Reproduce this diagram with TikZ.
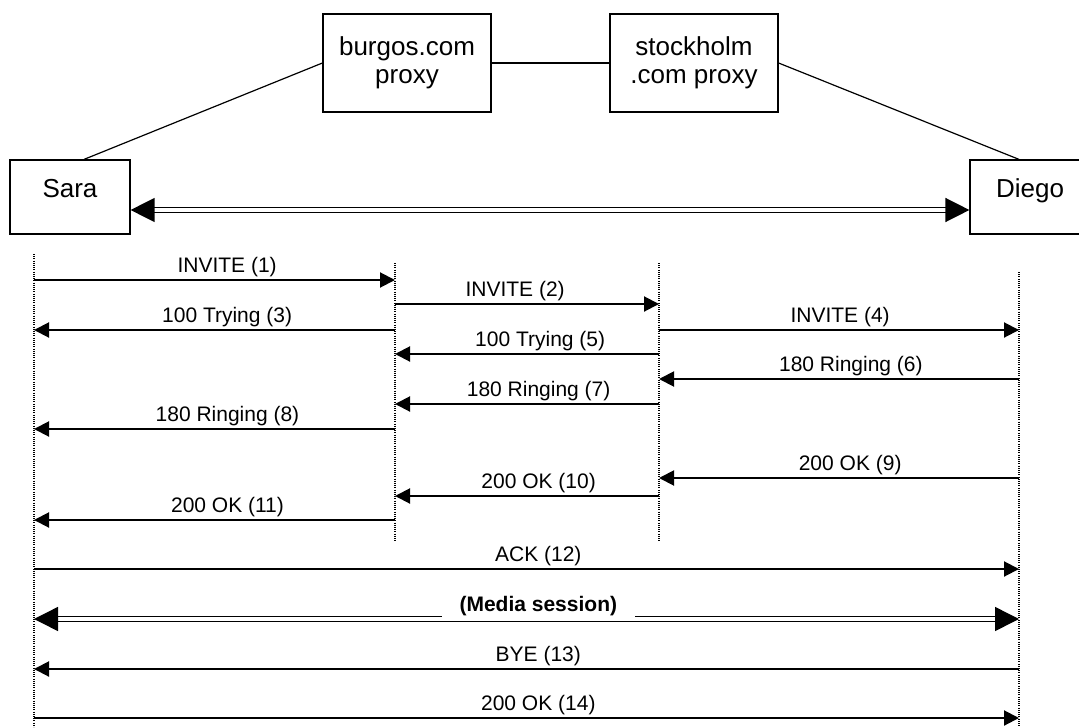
\documentclass[tikz,border=0pt]{standalone}
\usepackage{fontspec}
\setmainfont{Liberation Sans}
\usetikzlibrary{arrows.meta,positioning}

\tikzset{
  box/.style={draw, line width=0.6pt, align=center, inner sep=0pt,
    font=\fontsize{13}{14}\selectfont},
  ua/.style={box, minimum width=60pt, minimum height=37pt, text height=9.5pt, text depth=9pt},
  proxy/.style={box, minimum width=84pt, minimum height=49pt},
  life/.style={line width=0.6pt, dash pattern=on 0.5pt off 0.6pt},
  msg/.style={line width=1pt, -{Triangle[length=7.5pt,width=7.5pt]}},
  media/.style={double, line width=0.7pt, double distance=2pt,
    {Triangle[length=12pt,width=12pt]}-{Triangle[length=12pt,width=12pt]}},
  lbl/.style={anchor=south, fill=white, inner xsep=0pt, inner ysep=1pt,
    font=\fontsize{10.5}{12}\selectfont}
}

\begin{document}
\begin{tikzpicture}[x=0.5pt,y=-0.5pt]
\useasboundingbox (0,0) rectangle (1079,727);

% lifeline tops
\coordinate (sL) at (34,254);
\coordinate (bL) at (395,263);
\coordinate (kL) at (659,263);
\coordinate (dL) at (1019,272);

% user agents and proxies
\node[ua] (sara) at (70,197) {Sara};
\node[ua] (diego) at (1030,197) {Diego};
\node[proxy] (burgos) at (407,63) {burgos.com\\proxy};
\node[proxy] (stockholm) at (694,63) {stockholm\\.com proxy};

% signalling path
\draw[line width=0.6pt] ([xshift=7pt]sara.north) -- (burgos.west);
\draw[line width=0.6pt] (burgos) -- (stockholm);
\draw[line width=0.6pt] (stockholm.east) -- (dL |- diego.north);
\draw[media] ([yshift=-6.5pt]sara.east) -- ([yshift=-6.5pt]diego.west);

% lifelines
\draw[life] (sL) -- (sL |- 0,727);
\draw[life] (bL) -- (bL |- 0,542);
\draw[life] (kL) -- (kL |- 0,542);
\draw[life] (dL) -- (dL |- 0,727);

% messages: from/to/y/pos/box width/label
\foreach \a/\b/\y/\p/\w/\txt in {
    sL/bL/280/0.535/72.5pt/INVITE (1),
    bL/kL/304/0.455/73pt/INVITE (2),
    bL/sL/330/0.465/72.5pt/100 Trying (3),
    kL/dL/330/0.503/84.5pt/INVITE (4),
    kL/bL/354/0.45/72.5pt/100 Trying (5),
    dL/kL/379/0.467/96.5pt/180 Ringing (6),
    kL/bL/404/0.456/96.5pt/180 Ringing (7),
    bL/sL/429/0.464/96.5pt/180 Ringing (8),
    dL/kL/478/0.469/96.5pt/200 OK (9),
    kL/bL/496/0.456/96.5pt/200 OK (10),
    bL/sL/520/0.464/96.5pt/200 OK (11),
    sL/dL/569/0.512/96.5pt/ACK (12),
    dL/sL/669/0.488/96.5pt/BYE (13),
    sL/dL/718/0.512/96.5pt/200 OK (14)} {
  \draw[msg] (\a |- 0,\y) -- node[lbl, pos=\p, minimum width=\w] {\txt} (\b |- 0,\y);
}

% media session
\draw[media] (sL |- 0,619) -- node[lbl, pos=0.512, minimum width=96.5pt,
  font=\fontsize{10.5}{12}\selectfont\bfseries] {(Media session)} (dL |- 0,619);
\end{tikzpicture}
\end{document}
